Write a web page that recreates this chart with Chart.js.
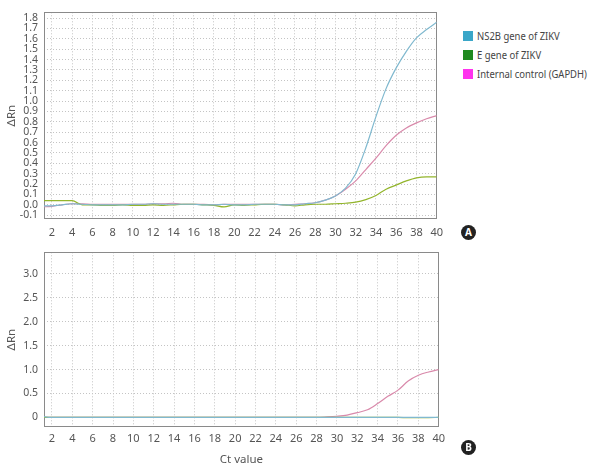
<!DOCTYPE html>
<html>
<head>
<meta charset="utf-8">
<script src="https://cdn.jsdelivr.net/npm/chart.js@4"></script>
<style>
    body { margin: 0; background: #fff; width: 592px; height: 471px; position: relative; overflow: hidden; font-family: "Noto Sans", sans-serif; }
    #topChart { position: absolute; left: 0; top: 0; }
    #botChart { position: absolute; left: 0; top: 240px; }
    .legend { position: absolute; left: 463px; top: 28px; font-size: 11px; color: #444; }
    .legend div { position: relative; height: 19px; line-height: 15px; white-space: nowrap; }
    .legend span.sw { position: absolute; left: 0; top: 3px; width: 10px; height: 10px; }
    .legend span.tx { position: absolute; left: 14px; top: 0; transform: scaleX(0.86); transform-origin: left center; }
    .badge { position: absolute; width: 15px; height: 15px; border-radius: 50%; background: #222; color: #fff; font: bold 10px "Noto Sans", sans-serif; text-align: center; line-height: 15px; }
</style>
</head>
<body>
<canvas id="topChart" width="450" height="245"></canvas>
<canvas id="botChart" width="450" height="231"></canvas>
<div class="legend" id="legend"></div>
<div class="badge" style="left:461px;top:225px;">A</div>
<div class="badge" style="left:461px;top:440px;">B</div>
<script>
// Cycle numbers (Ct axis)
const cycles = Array.from({ length: 40 }, (_, i) => i + 1);
const xTicks = [2, 4, 6, 8, 10, 12, 14, 16, 18, 20, 22, 24, 26, 28, 30, 32, 34, 36, 38, 40];
const yTicksTop = [-0.1, 0, 0.1, 0.2, 0.3, 0.4, 0.5, 0.6, 0.7, 0.8, 0.9, 1.0, 1.1, 1.2, 1.3, 1.4, 1.5, 1.6, 1.7, 1.8];
const yTicksBot = [0, 0.5, 1.0, 1.5, 2.0, 2.5, 3.0];

const seriesNames = ['NS2B gene of ZIKV', 'E gene of ZIKV', 'Internal control (GAPDH)'];
const legendColors = ['#3aa6c8', '#1f8a1f', '#ff33ee'];
const lineColors = ['#80b9cf', '#93b52c', '#d98aab'];

// Panel A
const ns2bTop = [-0.01, -0.01, 0.0, 0.01, 0.005, 0.0, 0.0, 0.0, 0.0, 0.005,
    0.005, 0.01, 0.005, 0.005, 0.005, 0.005, 0.0, 0.0, 0.005, 0.0,
    0.0, 0.005, 0.005, 0.005, 0.0, 0.0, 0.01, 0.02, 0.045, 0.085,
    0.16, 0.30, 0.55, 0.85, 1.12, 1.32, 1.48, 1.61, 1.69, 1.76];
const eTop = [0.04, 0.04, 0.04, 0.04, 0.0, 0.0, -0.005, -0.005, 0.0, -0.005,
    -0.005, 0.0, -0.005, 0.0, 0.005, 0.005, 0.0, -0.005, -0.02, 0.0,
    -0.005, 0.0, 0.005, 0.005, 0.0, -0.01, 0.0, 0.005, 0.005, 0.01,
    0.015, 0.025, 0.05, 0.09, 0.15, 0.19, 0.23, 0.26, 0.27, 0.27];
const gapdhTop = [-0.02, -0.015, 0.0, 0.01, 0.01, 0.005, 0.005, 0.005, 0.005, 0.005,
    0.005, 0.01, 0.01, 0.015, 0.005, 0.005, 0.005, 0.0, 0.005, 0.005,
    0.005, 0.005, 0.005, 0.005, 0.0, 0.005, 0.01, 0.02, 0.045, 0.085,
    0.15, 0.23, 0.34, 0.45, 0.57, 0.67, 0.74, 0.79, 0.83, 0.86];

// Panel B
const ns2bBot = [0.02, 0, 0, 0, 0, 0, 0, 0, 0, 0,
    0, 0, 0, 0, 0, 0, 0, 0, 0, 0,
    0, 0, 0, 0, 0, 0, 0, 0, 0, 0,
    0, 0, 0, 0, 0, 0, 0, 0, 0, 0];
const eBot = [0, 0, 0, 0, 0, 0, 0, 0, 0, 0,
    0, 0, 0, 0, 0, 0, 0, 0, 0, 0,
    0, 0, 0, 0, 0, 0, 0, 0, 0, 0,
    0, 0, 0, 0, 0, 0, -0.005, -0.005, -0.005, 0];
const gapdhBot = [0, 0, 0, 0, 0, 0, 0, 0, 0, 0,
    0, 0, 0, 0, 0, 0, 0, 0, 0, 0,
    0, 0, 0, 0, 0, 0, 0, 0, 0.01, 0.025,
    0.05, 0.10, 0.16, 0.29, 0.44, 0.57, 0.76, 0.88, 0.95, 1.0];

// Legend (HTML)
const legendEl = document.getElementById('legend');
seriesNames.forEach((name, i) => {
    const row = document.createElement('div');
    row.innerHTML = `<span class="sw" style="background:${legendColors[i]}"></span><span class="tx">${name}</span>`;
    legendEl.appendChild(row);
});

// Gray box around the plot area
const framePlugin = {
    id: 'frame',
    beforeDatasetsDraw(chart) {
        const { ctx, chartArea: a } = chart;
        ctx.save();
        ctx.strokeStyle = '#8a8a8a';
        ctx.lineWidth = 1;
        ctx.strokeRect(Math.round(a.left) + 0.5, Math.round(a.top) + 0.5,
            Math.round(a.right - a.left) - 1, Math.round(a.bottom - a.top) - 1);
        ctx.restore();
    }
};

function makeDatasets(values) {
    return values.map((vals, i) => ({
        label: seriesNames[i],
        data: vals.map((v, j) => ({ x: cycles[j], y: v })),
        borderColor: lineColors[i],
        borderWidth: 1.2,
        pointRadius: 0,
        cubicInterpolationMode: 'monotone',
        fill: false
    }));
}

function makeChart(id, values, opts) {
    return new Chart(document.getElementById(id), {
        type: 'line',
        data: { datasets: makeDatasets(values) },
        plugins: [framePlugin],
        options: {
            responsive: false,
            animation: false,
            layout: { padding: opts.padding },
            plugins: { legend: { display: false }, tooltip: { enabled: false } },
            scales: {
                x: {
                    type: 'linear',
                    min: 1.22,
                    max: 40,
                    afterBuildTicks: axis => { axis.ticks = xTicks.map(v => ({ value: v })); },
                    afterFit: axis => { axis.height = opts.xHeight; },
                    grid: { color: '#c4c4c4', drawTicks: false },
                    border: { display: false, dash: [1, 2] },
                    ticks: { padding: opts.xPad, color: '#555', font: { family: 'Noto Sans', size: 11 }, maxRotation: 0, autoSkip: false },
                    title: {
                        display: !!opts.xTitle,
                        text: opts.xTitle || '',
                        color: '#555',
                        font: { family: 'Noto Sans', size: 11.5 },
                        padding: { top: 0, bottom: 4 }
                    }
                },
                y: {
                    min: opts.yMin,
                    max: opts.yMax,
                    afterBuildTicks: axis => { axis.ticks = opts.yTicks.map(v => ({ value: v })); },
                    afterFit: axis => { axis.width = 44; },
                    grid: { color: '#c4c4c4', drawTicks: false },
                    border: { display: false, dash: [1, 2] },
                    ticks: { padding: 6, color: '#555', autoSkip: false, font: { family: 'Noto Sans', size: 10.5 }, callback: opts.yFormat },
                    title: {
                        display: true,
                        text: 'ΔRn',
                        color: '#555',
                        font: { family: 'Noto Sans', size: 11.5 },
                        padding: { top: 5, bottom: 0 }
                    }
                }
            }
        }
    });
}

makeChart('topChart', [ns2bTop, eTop, gapdhTop], {
    padding: { top: 6, right: 9, left: 0, bottom: 0 },
    xHeight: 26, xPad: 7,
    yMin: -0.137, yMax: 1.856, yTicks: yTicksTop,
    yFormat: v => v.toFixed(1)
});

makeChart('botChart', [ns2bBot, eBot, gapdhBot], {
    padding: { top: 9, right: 9, left: 0, bottom: 0 },
    xHeight: 44, xPad: 5, xTitle: 'Ct value',
    yMin: -0.2, yMax: 3.45, yTicks: yTicksBot,
    yFormat: v => (v === 0 ? '0' : v.toFixed(1))
});
</script>
</body>
</html>
